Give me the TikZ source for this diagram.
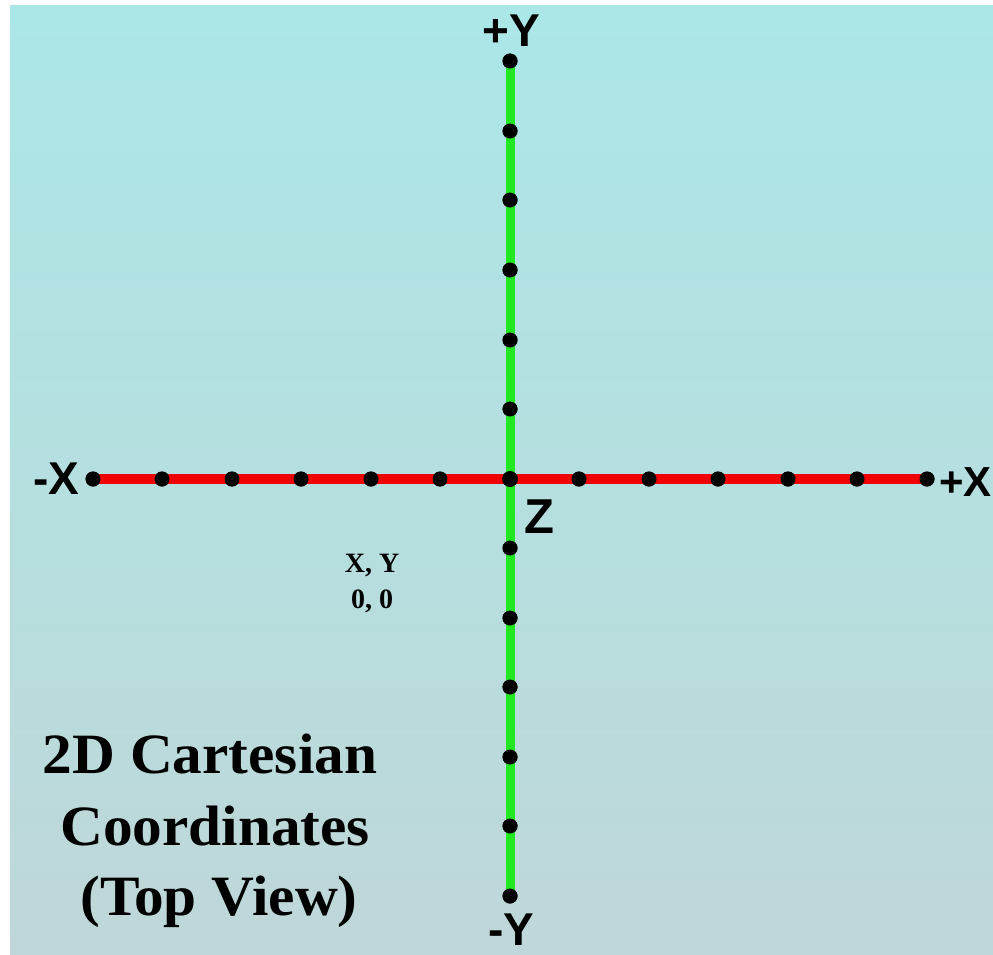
\documentclass[tikz,border=0pt]{standalone}
\usepackage{fontspec}
\setmainfont{Liberation Serif}
\newfontfamily\labfont{Liberation Sans}
\definecolor{bgtop}{RGB}{172,231,231}
\definecolor{bgbot}{RGB}{191,215,216}
\definecolor{axred}{RGB}{240,0,0}
\definecolor{axgreen}{RGB}{34,232,34}
\tikzset{
  dot/.style={circle,fill=black,inner sep=0pt,minimum size=15pt},
  axislab/.style={inner sep=0pt,font=\labfont\bfseries\fontsize{46}{46}\selectfont},
  titletext/.style={inner sep=0pt,anchor=base,font=\bfseries\fontsize{57}{57}\selectfont},
  smalltext/.style={inner sep=0pt,anchor=base,font=\bfseries\fontsize{28}{28}\selectfont},
}
\begin{document}
\begin{tikzpicture}[x=1pt,y=-1pt]
\useasboundingbox (0,0) rectangle (993,954);
\fill[white] (0,0) rectangle (993,954);
\shade[top color=bgtop,bottom color=bgbot] (10,5) rectangle (993,954);
% dots on x axis
\foreach \i/\x in {0/93,1/162,2/232,3/301,4/371,5/440,7/579,8/649,9/718,10/788,11/857,12/927}
  \node[dot] (x\i) at (\x,479) {};
% dots on y axis
\foreach \i/\y in {0/61,1/131,2/200,3/270,4/340,5/409,7/548,8/618,9/687,10/757,11/826,12/896}
  \node[dot] (y\i) at (510,\y) {};
\node[dot] (o) at (510,479) {};
% axes
\draw[axred,line width=10pt] (x0.center) -- (x12.center);
\draw[axgreen,line width=9pt] (y0.center) -- (y12.center);
% redraw dots on top
\foreach \i in {0,1,2,3,4,5,7,8,9,10,11,12}
  \fill (x\i) circle (7.5pt);
\foreach \i in {0,1,2,3,4,5,7,8,9,10,11,12}
  \fill (y\i) circle (7.5pt);
\fill (o) circle (8pt);
% axis labels
\node[axislab] (lpy) at (511,31) {+Y};
\node[axislab] (lmy) at (511,930) {-Y};
\node[axislab] (lmx) at (56,479) {-X};
\node[axislab,anchor=east,font=\labfont\bfseries\fontsize{42}{42}\selectfont] (lpx) at (992,482) {+X};
\node[axislab,font=\labfont\bfseries\fontsize{49}{49}\selectfont] (lz) at (539,517) {Z};
% origin text
\node[smalltext] (xy) at (372,572) {X, Y};
\node[smalltext] (zz) at (372,608) {0, 0};
% title
\node[titletext,xscale=1.04] (t1) at (210,773) {2D Cartesian};
\node[titletext,xscale=1.04] (t2) at (215,845) {Coordinates};
\node[titletext,xscale=1.04] (t3) at (219,915) {(Top View)};
\end{tikzpicture}
\end{document}
